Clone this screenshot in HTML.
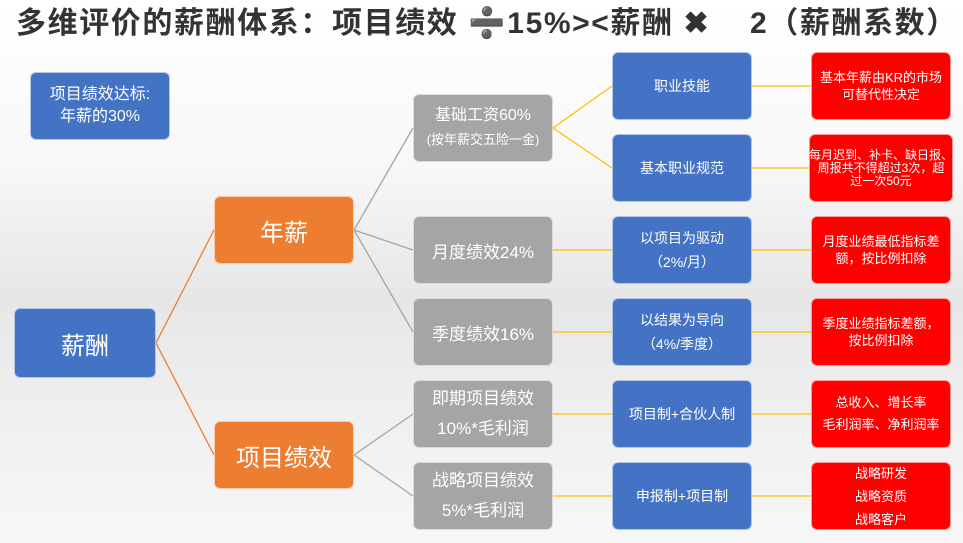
<!DOCTYPE html>
<html><head><meta charset="utf-8"><style>
body{margin:0;}
#p{position:relative;width:963px;height:543px;overflow:hidden;font-family:"Liberation Sans","Noto Sans CJK SC",sans-serif;
background:linear-gradient(180deg,#fff 0%,#f8f8f8 30%,#e6e6e6 55%,#efefef 75%,#f7f7f7 100%);}
.b{position:absolute;box-sizing:border-box;border-radius:6px;display:flex;flex-direction:column;align-items:center;justify-content:center;text-align:center;color:#fff;border:1px solid rgba(255,255,255,.6);}
.bl{background:#4472C4}.or{background:#ED7D31}.gr{background:#A5A5A5}.rd{background:#FF0000}
h1{position:absolute;left:16px;top:6px;margin:0;font-size:30px;font-weight:bold;color:#333;white-space:nowrap;letter-spacing:1.6px;line-height:36px}
svg{position:absolute;left:0;top:0}
</style></head><body><div id="p">
<h1>多维评价的薪酬体系：项目绩效 ➗15%&gt;&lt;薪酬 ✖&nbsp;&nbsp;&nbsp; 2（薪酬系数）</h1>
<svg width="963" height="543">
<g stroke="#ED7D31" stroke-width="1.3" fill="none">
<line x1="156" y1="343" x2="214" y2="230"/><line x1="156" y1="343" x2="214" y2="455"/></g>
<g stroke="#A5A5A5" stroke-width="1.3">
<line x1="354" y1="230" x2="413" y2="128"/><line x1="354" y1="230" x2="413" y2="250"/><line x1="354" y1="230" x2="413" y2="332"/>
<line x1="354" y1="455" x2="413" y2="414"/><line x1="354" y1="455" x2="413" y2="496"/></g>
<g stroke="#FFC000" stroke-width="1.3">
<line x1="553" y1="128" x2="612" y2="86"/><line x1="553" y1="128" x2="612" y2="168"/>
<line x1="553" y1="250" x2="612" y2="250"/><line x1="553" y1="332" x2="612" y2="332"/>
<line x1="553" y1="414" x2="612" y2="414"/><line x1="553" y1="496" x2="612" y2="496"/>
<line x1="752" y1="86" x2="811" y2="86"/><line x1="752" y1="168" x2="811" y2="168"/>
<line x1="752" y1="250" x2="811" y2="250"/><line x1="752" y1="332" x2="811" y2="332"/>
<line x1="752" y1="414" x2="811" y2="414"/><line x1="752" y1="496" x2="811" y2="496"/></g>
</svg>
<div class="b bl" style="left:30px;top:72px;width:140px;height:68px;font-size:16px;line-height:22px">项目绩效达标:<br>年薪的30%</div>
<div class="b bl" style="left:14px;top:308px;width:142px;height:70px;font-size:24px">薪酬</div>
<div class="b or" style="left:214px;top:196px;width:140px;height:68px;font-size:24px">年薪</div>
<div class="b or" style="left:214px;top:421px;width:140px;height:68px;font-size:24px">项目绩效</div>
<div class="b gr" style="left:413px;top:94px;width:140px;height:68px;font-size:16px;line-height:24px">基础工资60%<br><span style="font-size:13px">(按年薪交五险一金)</span></div>
<div class="b gr" style="left:413px;top:216px;width:140px;height:68px;font-size:17px">月度绩效24%</div>
<div class="b gr" style="left:413px;top:298px;width:140px;height:68px;font-size:17px">季度绩效16%</div>
<div class="b gr" style="left:413px;top:380px;width:140px;height:68px;font-size:17px;line-height:30px">即期项目绩效<br>10%*毛利润</div>
<div class="b gr" style="left:413px;top:462px;width:140px;height:68px;font-size:17px;line-height:30px">战略项目绩效<br>5%*毛利润</div>
<div class="b bl" style="left:612px;top:52px;width:140px;height:68px;font-size:14px">职业技能</div>
<div class="b bl" style="left:612px;top:134px;width:140px;height:68px;font-size:14px">基本职业规范</div>
<div class="b bl" style="left:612px;top:216px;width:140px;height:68px;font-size:14px;line-height:24px">以项目为驱动<br>（2%/月）</div>
<div class="b bl" style="left:612px;top:298px;width:140px;height:68px;font-size:14px;line-height:24px">以结果为导向<br>（4%/季度）</div>
<div class="b bl" style="left:612px;top:380px;width:140px;height:68px;font-size:14px">项目制+合伙人制</div>
<div class="b bl" style="left:612px;top:462px;width:140px;height:68px;font-size:14px">申报制+项目制</div>
<div class="b rd" style="left:811px;top:52px;width:140px;height:68px;font-size:13px;line-height:17px">基本年薪由KR的市场<br>可替代性决定</div>
<div class="b rd" style="left:809px;top:134px;width:144px;height:68px;font-size:12px;line-height:13px;white-space:nowrap">每月迟到、补卡、缺日报、<br>周报共不得超过3次，超<br>过一次50元</div>
<div class="b rd" style="left:811px;top:216px;width:140px;height:68px;font-size:13px;line-height:17px">月度业绩最低指标差<br>额，按比例扣除</div>
<div class="b rd" style="left:811px;top:298px;width:140px;height:68px;font-size:13px;line-height:17px">季度业绩指标差额，<br>按比例扣除</div>
<div class="b rd" style="left:811px;top:380px;width:140px;height:68px;font-size:13px;line-height:22px">总收入、增长率<br>毛利润率、净利润率</div>
<div class="b rd" style="left:811px;top:462px;width:140px;height:68px;font-size:13px;line-height:23px">战略研发<br>战略资质<br>战略客户</div>
</div></body></html>
